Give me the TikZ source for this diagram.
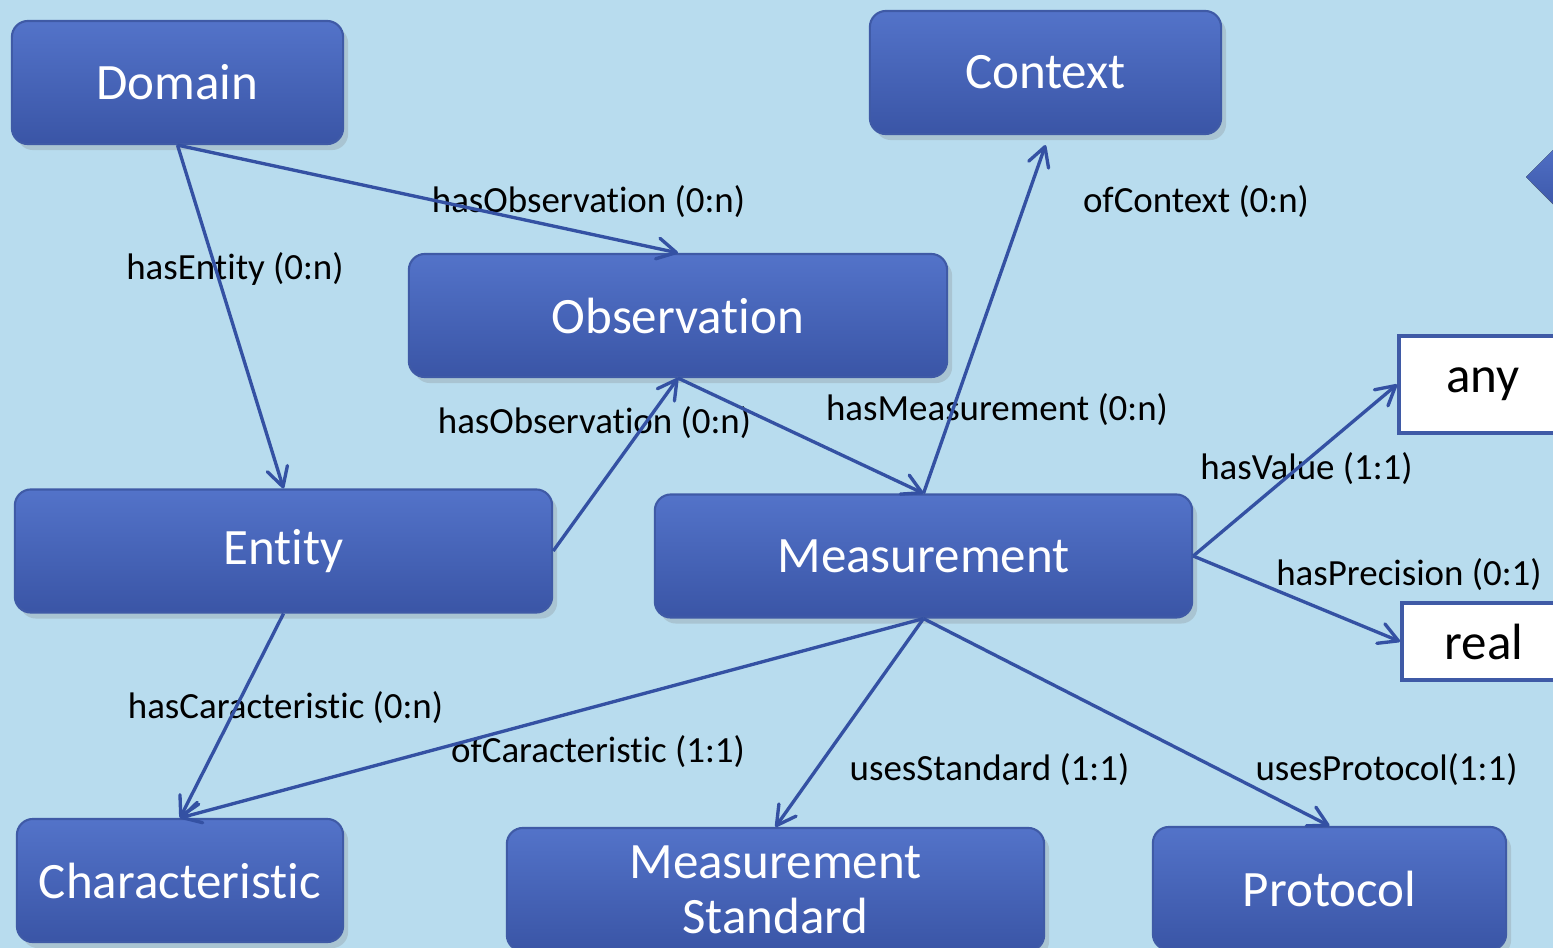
\documentclass[tikz,border=0pt]{standalone}
\usepackage{fontspec}
\setmainfont{Carlito}[RawFeature={-liga;-clig;-calt;-dlig}]
\usetikzlibrary{arrows.meta,shadows}
\definecolor{bgblue}{HTML}{B8DCEE}
\definecolor{boxtop}{HTML}{5373C9}
\definecolor{boxbottom}{HTML}{3A55A6}
\definecolor{boxline}{HTML}{3F5AA6}
\definecolor{linkblue}{HTML}{3451A3}

\begin{document}
\begin{tikzpicture}[x=0.01cm, y=-0.01cm,
    concept/.style={rounded corners=0.16cm, draw=boxline, line width=0.6pt,
      top color=boxtop, bottom color=boxbottom, text=white, align=center,
      font=\fontsize{14.5}{15.6}\selectfont, minimum height=1.23cm, inner sep=0pt,
      drop shadow={shadow xshift=0.05cm, shadow yshift=-0.06cm, opacity=0.25}},
    literal/.style={draw=boxline, line width=1.1pt, fill=white, inner sep=0pt,
      font=\fontsize{14.5}{15.6}\selectfont},
    rel/.style={font=\fontsize{10.5}{12}\selectfont, inner sep=0pt},
    link/.style={draw=linkblue, line width=0.95pt,
      -{Straight Barb[length=1.9mm, width=2.1mm, round]}}]
    \useasboundingbox (0,0) rectangle (1553,948);
    \clip (0,0) rectangle (1553,948);
    \fill[bgblue] (0,0) rectangle (1553,948);

    \node[concept, minimum width=3.31cm] (domain) at (177.5,82.5) {Domain};
    \node[concept, minimum width=3.51cm] (context) at (1045.5,72.5) {Context};
    \node[concept, minimum width=5.38cm] (observation) at (678,315.5) {Observation};
    \node[concept, minimum width=5.37cm] (entity) at (283.5,551) {Entity};
    \node[concept, minimum width=5.37cm] (measurement) at (923.5,556) {Measurement};
    \node[concept, minimum width=3.26cm] (characteristic) at (180,880.5) {Characteristic};
    \node[concept, minimum width=5.37cm] (standard) at (775.5,889.5) {Measurement\\Standard};
    \node[concept, minimum width=3.53cm] (protocol) at (1329.5,888.5) {Protocol};
    \node[literal, minimum width=1.68cm, minimum height=0.97cm] (any) at (1483,384.5) {any};
    \node[literal, minimum width=1.64cm, minimum height=0.77cm] (real) at (1484,641.5) {real};
    \fill[top color=boxtop, bottom color=boxbottom,
      drop shadow={shadow xshift=0.05cm, shadow yshift=-0.06cm, opacity=0.25}]
      (1526,177) -- (1566,137) -- (1606,177) -- (1566,217) -- cycle;

    \node[rel] (lentity) at (235,269) {hasEntity (0:n)};
    \node[rel] (lobsdomain) at (588.5,202) {hasObservation (0:n)};
    \node[rel] (lobsentity) at (594.5,423) {hasObservation (0:n)};
    \node[rel] (lmeasurement) at (997,410) {hasMeasurement (0:n)};
    \node[rel] (lcontext) at (1196,202) {ofContext (0:n)};
    \node[rel] (lvalue) at (1306.5,469) {hasValue (1:1)};
    \node[rel] (lprecision) at (1409,575) {hasPrecision (0:1)};
    \node[rel] (lhascar) at (285.5,708) {hasCaracteristic (0:n)};
    \node[rel] (lofcar) at (598,752) {ofCaracteristic (1:1)};
    \node[rel] (lstandard) at (989.5,770) {usesStandard (1:1)};
    \node[rel] (lprotocol) at (1386.5,770) {usesProtocol(1:1)};

    \draw[link] (domain.south) -- (entity.north);
    \draw[link] (domain.south) -- (observation.north);
    \draw[link] (entity.east) -- (observation.south);
    \draw[link] (observation.south) -- (measurement.north);
    \draw[link] (measurement.north) -- ([yshift=-0.1cm]context.south);
    \draw[link] (measurement.east) -- (any.west);
    \draw[link] (measurement.east) -- (real.west);
    \draw[link] (entity.south) -- (characteristic.north);
    \draw[link] (measurement.south) -- (characteristic.north);
    \draw[link] (measurement.south) -- (standard.north);
    \draw[link] (measurement.south) -- (protocol.north);
\end{tikzpicture}
\end{document}
